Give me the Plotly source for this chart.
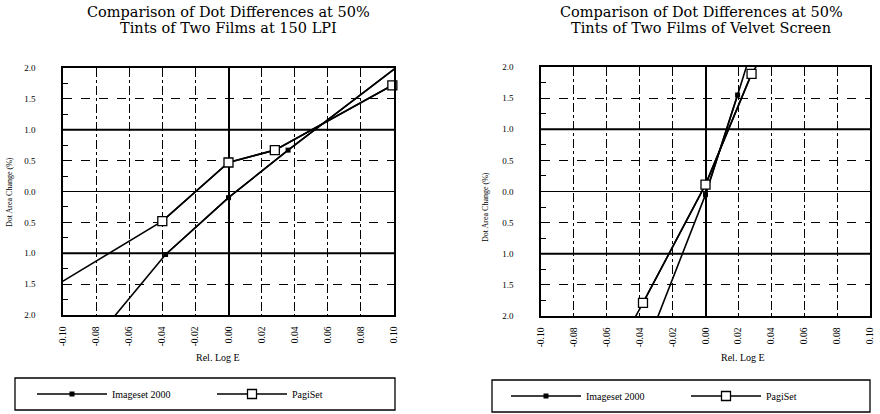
import plotly.graph_objects as go

W, H = 880, 414

# ---------------- data ----------------
x_ticks = [-0.10, -0.08, -0.06, -0.04, -0.02, 0.00, 0.02, 0.04, 0.06, 0.08, 0.10]
x_tick_text = ["-0.10", "-0.08", "-0.06", "-0.04", "-0.02", "0.00", "0.02", "0.04", "0.06", "0.08", "0.10"]
y_ticks = [-2.0, -1.5, -1.0, -0.5, 0.0, 0.5, 1.0, 1.5, 2.0]
y_tick_text = ["2.0", "1.5", "1.0", "0.5", "0.0", "0.5", "1.0", "1.5", "2.0"]

# Left chart: 150 LPI  (full drawn polyline; markers only on measured points)
lpi_imageset_x = [-0.072, -0.038, 0.000, 0.036, 0.104]
lpi_imageset_y = [-2.12, -1.02, -0.10, 0.67, 2.06]
lpi_imageset_marked = [1, 2, 3, 4]
lpi_pagiset_x = [-0.103, -0.040, 0.000, 0.028, 0.099, 0.105]
lpi_pagiset_y = [-1.50, -0.48, 0.47, 0.67, 1.72, 1.78]
lpi_pagiset_marked = [1, 2, 3, 4]

# Right chart: Velvet Screen
vel_imageset_x = [-0.030, 0.000, 0.0195, 0.026]
vel_imageset_y = [-2.08, -0.05, 1.55, 2.10]
vel_imageset_marked = [1, 2]
vel_pagiset_x = [-0.044, -0.038, 0.000, 0.028, 0.033]
vel_pagiset_y = [-2.08, -1.79, 0.11, 1.89, 2.10]
vel_pagiset_marked = [1, 2, 3]

titles = [["Comparison of Dot Differences at 50%", "Tints of Two Films at 150 LPI"],
          ["Comparison of Dot Differences at 50%", "Tints of Two Films of Velvet Screen"]]
x_title = "Rel. Log E"
y_title = "Dot Area Change (%)"
series_names = ["Imageset 2000", "PagiSet"]

# ---------------- layout geometry (pixels) ----------------
SERIF = "Liberation Serif, DejaVu Serif, serif"
TITLE_FONT = "DejaVu Serif, serif"
panels = [
    dict(x0=63, x1=394, y0=68, y1=315, title_x=228, ytitle_x=9, ytitle_y=192, xtitle_x=218,
         leg_x0=15, leg_x1=395, leg_y0=378, leg_y1=410, leg_item_x=32, leg_entry=95),
    dict(x0=541, x1=870, y0=67, y1=316, title_x=701, ytitle_x=485, ytitle_y=207, xtitle_x=743,
         leg_x0=492, leg_x1=870, leg_y0=380, leg_y1=412, leg_item_x=506, leg_entry=95),
]

def px(x):
    return x / W

def py(y):
    return 1 - y / H

fig = go.Figure()

datasets = [
    [(lpi_imageset_x, lpi_imageset_y, lpi_imageset_marked),
     (lpi_pagiset_x, lpi_pagiset_y, lpi_pagiset_marked)],
    [(vel_imageset_x, vel_imageset_y, vel_imageset_marked),
     (vel_pagiset_x, vel_pagiset_y, vel_pagiset_marked)],
]

marker_styles = [
    dict(symbol="square", size=5, color="black", line=dict(width=0)),
    dict(symbol="square", size=9, color="white", line=dict(color="black", width=1.3)),
]

for i, p in enumerate(panels):
    ax = "" if i == 0 else "2"
    xa, ya = "x" + ax, "y" + ax
    leg = "legend" if i == 0 else "legend2"
    for j, (xs, ys, marked) in enumerate(datasets[i]):
        fig.add_trace(go.Scatter(
            x=xs, y=ys, mode="lines", xaxis=xa, yaxis=ya,
            line=dict(color="black", width=1.6), showlegend=False,
            cliponaxis=False, hoverinfo="skip"))
        fig.add_trace(go.Scatter(
            x=[xs[k] for k in marked], y=[ys[k] for k in marked],
            mode="lines+markers", xaxis=xa, yaxis=ya, name=series_names[j],
            line=dict(color="black", width=1.6), marker=marker_styles[j],
            cliponaxis=False, legend=leg))

    axis_common = dict(showline=True, linecolor="black", linewidth=1.5, mirror=True,
                       gridcolor="black", gridwidth=1)
    fig.layout["xaxis" + ax] = dict(
        domain=[px(p["x0"]), px(p["x1"])], anchor=ya, range=[-0.10, 0.10],
        tickvals=x_ticks, ticktext=x_tick_text, tickangle=-90,
        tickfont=dict(family=SERIF, size=9.5, color="black"),
        showgrid=True, griddash="dashdot", zeroline=True, zerolinecolor="black",
        zerolinewidth=1.5, ticks="", ticklabelstandoff=6, **axis_common)
    fig.layout["yaxis" + ax] = dict(
        domain=[py(p["y1"]), py(p["y0"])], anchor=xa, range=[-2.0, 2.0],
        tickvals=y_ticks, ticktext=y_tick_text,
        tickfont=dict(family=SERIF, size=9, color="black"),
        showgrid=True, griddash="dash", zeroline=True, zerolinecolor="black",
        zerolinewidth=1, ticks="inside", ticklen=5, tickcolor="black",
        minor=dict(dtick=0.25, ticks="inside", ticklen=5, tickcolor="black", showgrid=False),
        ticklabelstandoff=24, **axis_common)

    # heavy reference lines at +/-1.0
    for yv in (-1.0, 1.0):
        fig.add_shape(type="line", xref=xa + " domain", yref=ya, x0=0, x1=1, y0=yv, y1=yv,
                      line=dict(color="black", width=2.2), layer="below")

    for k, line_text in enumerate(titles[i]):
        fig.add_annotation(text=line_text, xref="paper", yref="paper", x=px(p["title_x"]),
                           y=py(12 + 16 * k), xanchor="center", yanchor="middle",
                           showarrow=False,
                           font=dict(family=TITLE_FONT, size=14.5, color="black"))
    fig.add_annotation(text=y_title, xref="paper", yref="paper", x=px(p["ytitle_x"]),
                       y=py(p["ytitle_y"]), xanchor="center", yanchor="middle",
                       textangle=-90, showarrow=False,
                       font=dict(family=SERIF, size=8, color="black"))
    fig.add_annotation(text=x_title, xref="paper", yref="paper", x=px(p["xtitle_x"]),
                       y=py(357), xanchor="center", yanchor="middle", showarrow=False,
                       font=dict(family=SERIF, size=10, color="black"))
    # legend frame
    fig.add_shape(type="rect", xref="paper", yref="paper",
                  x0=px(p["leg_x0"]), x1=px(p["leg_x1"]), y0=py(p["leg_y1"]), y1=py(p["leg_y0"]),
                  line=dict(color="black", width=1.3))

legend_common = dict(orientation="h", xanchor="left", yanchor="middle", itemwidth=70,
                     font=dict(family=SERIF, size=10, color="black"),
                     bgcolor="rgba(0,0,0,0)", borderwidth=0)
fig.update_layout(
    width=W, height=H, margin=dict(l=0, r=0, t=0, b=0, autoexpand=False),
    paper_bgcolor="white", plot_bgcolor="white",
    legend=dict(x=px(panels[0]["leg_item_x"]), y=py(394), entrywidth=panels[0]["leg_entry"],
                **legend_common),
    legend2=dict(x=px(panels[1]["leg_item_x"]), y=py(396), entrywidth=panels[1]["leg_entry"],
                 **legend_common),
)

# remove the default page margin so the 880x414 figure fills the window exactly
fig.write_html("out.html",
               post_script="document.body.style.margin='0';document.body.style.overflow='hidden';")
